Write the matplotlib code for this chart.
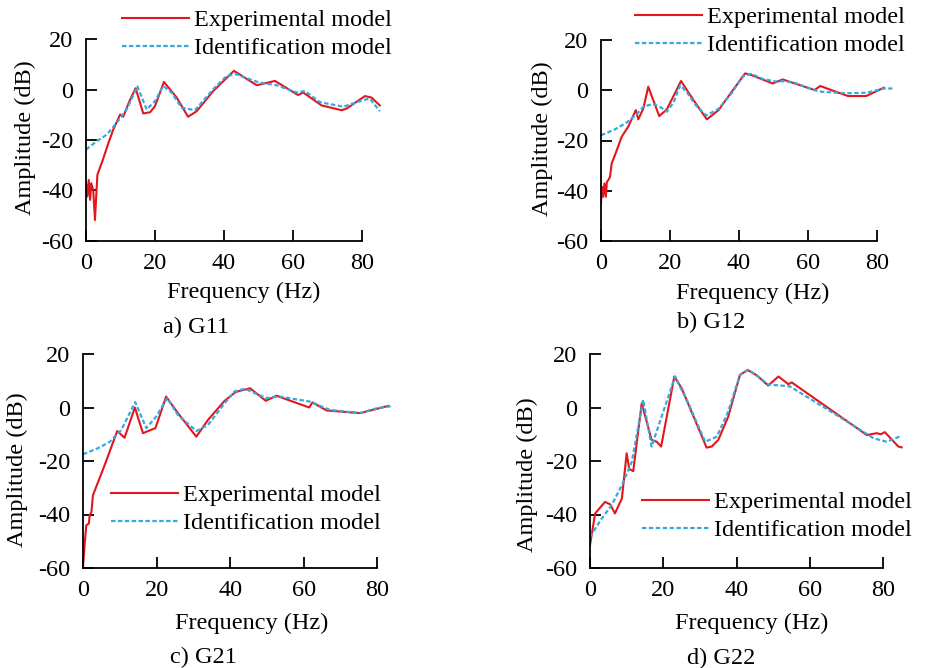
import matplotlib
matplotlib.use('Agg')
import matplotlib.pyplot as plt

# Данные (частота, Гц / амплитуда, дБ)
a_exp_f = [0, 0.4, 0.8, 1.2, 1.5, 2.1, 2.6, 3.3, 4.9, 6.5, 7.9, 9.9, 10.8, 12.6, 14.4, 16.6, 18.6,
           20.0, 22.6, 26.3, 29.6, 32.1, 36.9, 42.9, 49.5, 54.8, 61.5, 63.0, 68.3, 74.1, 75.5, 80.9,
           82.8, 85.2]
a_exp_db = [-37.1, -42.4, -35.8, -43.7, -37.1, -39.8, -51.7, -33.8, -27.8, -21.2, -15.9, -9.9, -10.8,
            -4.6, 0.5, -9.5, -9.0, -6.6, 3.0, -3.2, -10.8, -8.6, -0.6, 7.4, 1.7, 3.4, -2.2, -1.2,
            -6.3, -8.2, -7.6, -2.6, -3.2, -6.3]
a_id_f = [0, 3.1, 6.0, 8.9, 11.8, 14.9, 17.6, 20.0, 22.4, 24.8, 27.7, 31.6, 36.9, 40.8, 43.7, 44.6,
          50.4, 55.3, 61.1, 63.5, 67.8, 74.6, 80.4, 82.3, 85.2]
a_id_db = [-23.8, -20.5, -17.9, -13.2, -7.9, 1.2, -7.9, -4.6, 1.4, -1.2, -7.2, -8.2, 0.1, 5.4, 6.1,
           5.4, 2.7, 1.7, -1.2, -0.6, -5.0, -6.8, -4.2, -3.6, -8.6]

b_exp_f = [0, 0.2, 0.6, 1.0, 1.4, 1.7, 2.1, 2.6, 3.1, 4.6, 6.0, 7.9, 10.1, 10.8, 12.3, 13.7, 16.9,
           19.1, 23.2, 26.8, 30.7, 34.1, 37.9, 41.8, 43.5, 49.8, 52.7, 61.9, 63.6, 66.7, 71.6, 76.9,
           82.0]
b_exp_db = [-45.1, -38.4, -42.4, -37.1, -42.4, -36.5, -35.8, -34.5, -29.1, -23.8, -18.5, -14.5, -7.9,
            -11.6, -7.2, 1.4, -10.3, -7.6, 3.7, -3.9, -11.6, -7.9, -0.6, 6.7, 6.1, 2.7, 4.3, 0.1,
            1.7, 0.1, -2.3, -2.3, 1.0]
b_id_f = [0, 4.0, 7.5, 10.4, 12.3, 15.0, 17.0, 19.1, 21.0, 23.0, 25.0, 27.5, 30.5, 34.0, 38.0, 41.0,
          43.5, 47.0, 50.5, 53.0, 56.0, 62.0, 64.0, 71.0, 77.0, 82.0, 84.5]
b_id_db = [-17.9, -15.6, -12.8, -9.5, -6.5, -5.5, -6.5, -8.5, -5.0, 2.0, -1.0, -6.0, -10.0, -7.5,
           -1.0, 5.5, 6.5, 4.5, 3.5, 3.6, 3.0, 0.0, -0.6, -1.2, -1.0, 0.7, 0.7]

c_exp_f = [0, 0.5, 0.9, 1.6, 1.8, 2.3, 2.7, 5.9, 9.3, 11.3, 14.1, 16.3, 19.7, 22.6, 25.8, 30.8, 34.0,
           38.5, 41.5, 45.4, 49.7, 52.6, 61.5, 62.4, 66.2, 75.3, 83.0]
c_exp_db = [-59.6, -50.3, -44.0, -43.4, -40.3, -39.0, -32.8, -21.5, -8.8, -11.3, 0.0, -9.6, -7.7, 4.1,
            -2.1, -10.9, -4.6, 2.5, 5.8, 7.2, 2.5, 4.4, 0.0, 1.9, -1.1, -2.1, 0.6]
c_id_f = [0, 4.1, 7.3, 10.4, 14.2, 17.2, 19.9, 22.9, 25.8, 30.8, 34.0, 38.5, 41.2, 44.0, 49.8, 53.4,
          61.7, 67.1, 75.3, 79.8, 84.3]
c_id_db = [-17.5, -15.2, -12.8, -8.4, 2.0, -7.7, -3.4, 3.5, -2.8, -8.8, -6.5, 1.6, 6.0, 7.0, 3.5, 4.1,
           2.2, -0.9, -2.1, -0.3, 0.6]

d_exp_f = [0, 1.4, 4.1, 5.5, 6.8, 8.7, 10.0, 10.7, 11.8, 14.1, 16.8, 18.2, 19.4, 23.0, 25.0, 31.8,
           33.2, 35.0, 37.7, 40.9, 43.0, 45.5, 48.6, 51.4, 54.1, 55.0, 75.5, 78.2, 79.3, 80.4, 84.1,
           85.0]
d_exp_db = [-51.5, -39.6, -35.3, -36.2, -39.6, -34.0, -17.1, -23.0, -23.8, 1.6, -12.1, -12.8, -14.6,
            11.6, 7.2, -15.0, -14.6, -12.1, -3.4, 12.2, 14.0, 12.0, 8.2, 11.6, 8.7, 9.4, -10.3, -9.6,
            -10.0, -9.2, -14.6, -14.9]
d_id_f = [0, 3.2, 5.9, 8.7, 11.4, 14.5, 16.8, 23.2, 26.8, 31.4, 34.6, 37.7, 40.9, 43.2, 46.4, 48.6,
          54.5, 70.9, 77.3, 80.9, 84.4]
d_id_db = [-48.4, -41.5, -36.5, -29.0, -20.3, 2.9, -14.6, 11.6, 1.6, -12.8, -10.9, -1.5, 12.2, 14.1,
           11.0, 8.6, 7.9, -5.9, -11.5, -12.8, -10.9]

captions = ['a) G11', 'b) G12', 'c) G21', 'd) G22']
x_ticks = [0, 20, 40, 60, 80]
y_ticks = [-60, -40, -20, 0, 20]

plt.rcParams['font.family'] = ['Liberation Serif', 'DejaVu Serif']
plt.rcParams['font.size'] = 17.5
plt.rcParams['axes.unicode_minus'] = False

W, H = 937, 668
fig = plt.figure(figsize=(W / 100, H / 100), dpi=100)

# положение панелей в пикселях: x0, верх, ширина, высота, легенда (x, y), подписи
panels = [
    dict(f1=a_exp_f, d1=a_exp_db, f2=a_id_f, d2=a_id_db, box=(86, 39, 300, 202),
         leg=(122, 9), xl=(244, 292), yl=(25, 138), cap=(196, 327)),
    dict(f1=b_exp_f, d1=b_exp_db, f2=b_id_f, d2=b_id_db, box=(601, 40, 300, 201),
         leg=(635, 6), xl=(753, 293), yl=(542, 139), cap=(711, 322)),
    dict(f1=c_exp_f, d1=c_exp_db, f2=c_id_f, d2=c_id_db, box=(83, 354, 320, 214),
         leg=(111, 484), xl=(252, 623), yl=(17, 470), cap=(203, 657)),
    dict(f1=d_exp_f, d1=d_exp_db, f2=d_id_f, d2=d_id_db, box=(590, 354, 319, 214),
         leg=(642, 491), xl=(752, 623), yl=(527, 475), cap=(721, 658)),
]

for p, cap in zip(panels, captions):
    x0, top, w, h = p['box']
    ax = fig.add_axes([x0 / W, 1 - (top + h) / H, w / W, h / H])
    ax.plot(p['f1'], p['d1'], color='#e3161e', lw=1.5, label='Experimental model')
    ax.plot(p['f2'], p['d2'], color='#35a9dc', lw=1.6, linestyle=(0, (2, 1.1)),
            label='Identification model')
    ax.set_xlim(0, 87)
    ax.set_ylim(-60, 20)
    ax.set_xticks(x_ticks)
    ax.set_yticks(y_ticks)
    ax.spines['top'].set_visible(False)
    ax.spines['right'].set_visible(False)
    ax.spines['bottom'].set_bounds(0, 80)
    for s in ('left', 'bottom'):
        ax.spines[s].set_linewidth(1.3)
    ax.tick_params(direction='in', length=8, width=1.3, pad=9)
    lx, ly = p['leg']
    ax.legend(loc='upper left', bbox_to_anchor=(lx / W, 1 - ly / H), bbox_transform=fig.transFigure,
              frameon=False, borderpad=0, borderaxespad=0, handlelength=2.75,
              handletextpad=0.2, labelspacing=0.25)
    fig.text(p['xl'][0] / W, 1 - p['xl'][1] / H, 'Frequency (Hz)', ha='center', va='center')
    fig.text(p['yl'][0] / W, 1 - p['yl'][1] / H, 'Amplitude (dB)', ha='center', va='center',
             rotation=90)
    fig.text(p['cap'][0] / W, 1 - p['cap'][1] / H, cap, ha='center', va='center')

fig.savefig('out.png', dpi=100)
